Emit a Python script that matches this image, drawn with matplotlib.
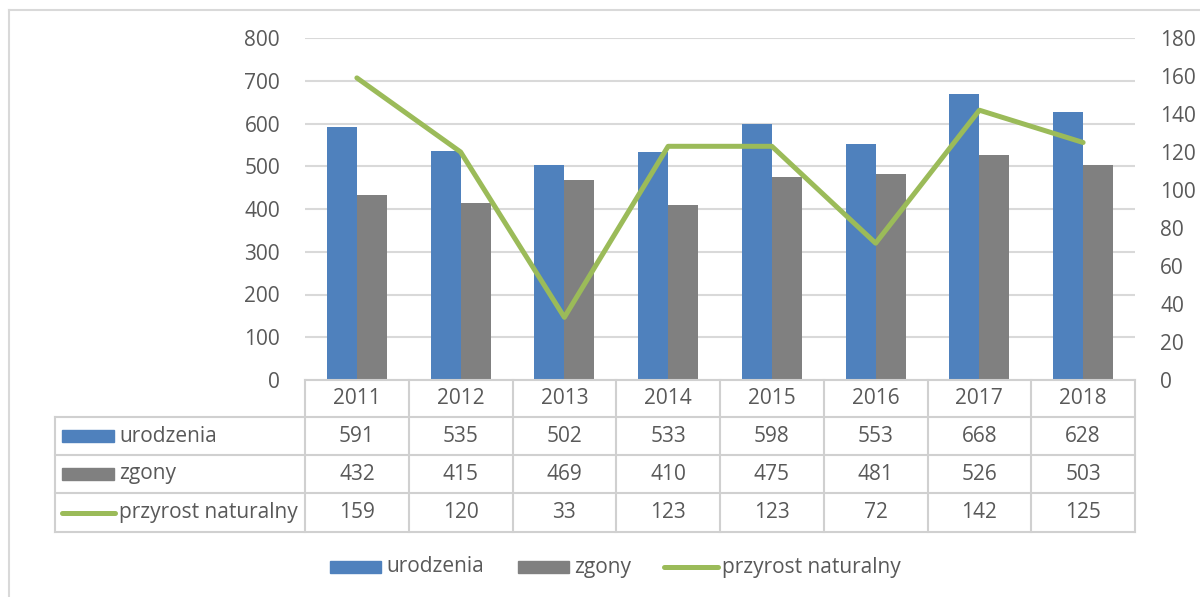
import matplotlib.pyplot as plt
import numpy as np
from matplotlib.patches import Rectangle
from matplotlib.lines import Line2D

years = ['2011', '2012', '2013', '2014', '2015', '2016', '2017', '2018']
urodzenia = [591, 535, 502, 533, 598, 553, 668, 628]
zgony = [432, 415, 469, 410, 475, 481, 526, 503]
przyrost = [159, 120, 33, 123, 123, 72, 142, 125]

c_blue = '#4F81BD'
c_gray = '#808080'
c_green = '#9BBB59'
c_text = '#595959'
c_grid = '#D9D9D9'

plt.rcParams['font.family'] = ['Open Sans', 'DejaVu Sans']
fs = 15

W, H = 1200, 597
fig = plt.figure(figsize=(12, 5.97), dpi=100)

def fx(px):
    return px / W

def fy(py):
    return 1 - py / H

# outer frame
fig.add_artist(Line2D([fx(9), fx(9)], [fy(10), 0], color=c_grid, lw=1.5))
fig.add_artist(Line2D([fx(9), 1], [fy(10), fy(10)], color=c_grid, lw=1.5))

left, right, top, bottom = 305, 1135, 38, 380
ax = fig.add_axes([fx(left), fy(bottom), fx(right - left), fy(top) - fy(bottom)])
x = np.arange(len(years))
bw = 0.29
ax.bar(x - bw / 2, urodzenia, bw, color=c_blue, zorder=2)
ax.bar(x + bw / 2, zgony, bw, color=c_gray, zorder=2)
ax.set_xlim(-0.5, len(years) - 0.5)
ax.set_ylim(0, 800)
ax.set_yticks(range(0, 801, 100))
ax.yaxis.grid(True, color=c_grid, lw=1.5, zorder=0)
ax.set_xticks([])
for s in ax.spines.values():
    s.set_visible(False)
ax.tick_params(axis='y', length=0, pad=18, labelsize=fs, labelcolor=c_text)

ax2 = ax.twinx()
ax2.plot(x, przyrost, color=c_green, lw=3.6, solid_capstyle='round', zorder=3)
ax2.set_ylim(0, 180)
ax2.set_yticks(range(0, 181, 20))
for s in ax2.spines.values():
    s.set_visible(False)
ax2.tick_params(axis='y', length=0, pad=18, labelsize=fs, labelcolor=c_text)

# data table
cw = (right - left) / len(years)
row_y = [380, 417, 455, 493, 532]
tl = 55
lc = '#D0D0D0'
fig.add_artist(Line2D([fx(left), fx(right)], [fy(row_y[0])] * 2, color=lc, lw=1.5))
for yy in row_y[1:]:
    fig.add_artist(Line2D([fx(tl), fx(right)], [fy(yy)] * 2, color=lc, lw=1.5))
for i in range(len(years) + 1):
    xx = left + i * cw
    fig.add_artist(Line2D([fx(xx)] * 2, [fy(row_y[0]), fy(row_y[-1])], color=lc, lw=1.5))
fig.add_artist(Line2D([fx(tl)] * 2, [fy(row_y[1]), fy(row_y[-1])], color=lc, lw=1.5))

rows = [urodzenia, zgony, przyrost]
names = ['urodzenia', 'zgony', 'przyrost naturalny']
for i, yr in enumerate(years):
    cx = left + (i + 0.5) * cw
    fig.text(fx(cx), fy((row_y[0] + row_y[1]) / 2), yr, ha='center', va='center',
             fontsize=fs, color=c_text)
    for r, vals in enumerate(rows):
        fig.text(fx(cx), fy((row_y[r + 1] + row_y[r + 2]) / 2), str(vals[i]),
                 ha='center', va='center', fontsize=fs, color=c_text)

for r, name in enumerate(names):
    cy = (row_y[r + 1] + row_y[r + 2]) / 2
    if r < 2:
        col = c_blue if r == 0 else c_gray
        fig.add_artist(Rectangle((fx(62), fy(cy + 6)), fx(52), fy(cy - 6) - fy(cy + 6),
                                 color=col))
    else:
        fig.add_artist(Line2D([fx(62), fx(115)], [fy(cy)] * 2, color=c_green, lw=3.6,
                              solid_capstyle='round'))
    fig.text(fx(119), fy(cy), name, ha='left', va='center', fontsize=fs, color=c_text)

# bottom legend
ly = 567
fig.add_artist(Rectangle((fx(330), fy(ly + 6)), fx(51), fy(ly - 6) - fy(ly + 6), color=c_blue))
fig.text(fx(386), fy(ly), 'urodzenia', ha='left', va='center', fontsize=fs, color=c_text)
fig.add_artist(Rectangle((fx(518), fy(ly + 6)), fx(51), fy(ly - 6) - fy(ly + 6), color=c_gray))
fig.text(fx(574), fy(ly), 'zgony', ha='left', va='center', fontsize=fs, color=c_text)
fig.add_artist(Line2D([fx(664), fx(718)], [fy(ly)] * 2, color=c_green, lw=3.6,
                      solid_capstyle='round'))
fig.text(fx(722), fy(ly), 'przyrost naturalny', ha='left', va='center', fontsize=fs,
         color=c_text)

fig.savefig('out.png', dpi=100)
